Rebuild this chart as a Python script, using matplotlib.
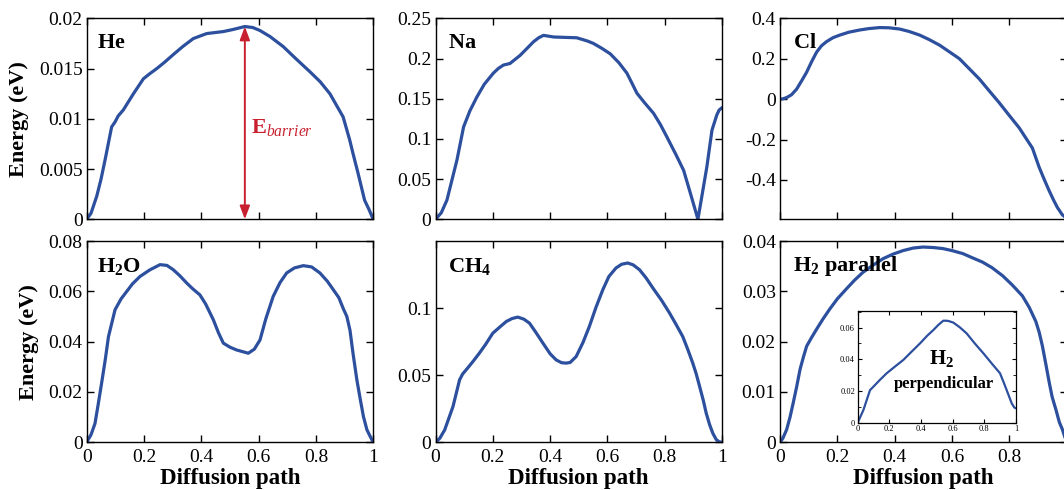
import matplotlib
matplotlib.use("Agg")
import matplotlib.pyplot as plt
from matplotlib.ticker import FuncFormatter, MultipleLocator

plt.rcParams['font.family'] = ['Liberation Serif', 'DejaVu Serif']
plt.rcParams['mathtext.fontset'] = 'custom'
plt.rcParams['mathtext.rm'] = 'Liberation Serif'
plt.rcParams['mathtext.it'] = 'Liberation Serif:italic'
plt.rcParams['mathtext.bf'] = 'Liberation Serif:bold'

# ---------------- data ----------------
he_x = [0, 0.015, 0.035, 0.05, 0.064, 0.087, 0.099, 0.11, 0.128, 0.163, 0.198, 0.22, 0.244, 0.27,
        0.302, 0.335, 0.372, 0.40, 0.419, 0.477, 0.51, 0.552, 0.58, 0.605, 0.64, 0.686, 0.73, 0.779,
        0.815, 0.849, 0.895, 0.918, 0.93, 0.947, 0.970, 0.985, 1.0]
he_y = [0, 0.0006, 0.0023, 0.004, 0.0059, 0.0092, 0.0097, 0.0103, 0.0109, 0.0125, 0.0140, 0.0145,
        0.0150, 0.0156, 0.0164, 0.0172, 0.0180, 0.0183, 0.0185, 0.0187, 0.0189, 0.0192, 0.0191, 0.0188,
        0.0182, 0.0172, 0.016, 0.0147, 0.0137, 0.0125, 0.0102, 0.0079, 0.0065, 0.0046, 0.0019, 0.001, 0]

na_x = [0, 0.02, 0.04, 0.075, 0.098, 0.12, 0.144, 0.17, 0.202, 0.22, 0.237, 0.26, 0.295, 0.32, 0.342,
        0.36, 0.377, 0.412, 0.45, 0.493, 0.53, 0.551, 0.58, 0.61, 0.64, 0.668, 0.685, 0.703, 0.73, 0.761,
        0.785, 0.807, 0.84, 0.866, 0.89, 0.916, 0.947, 0.965, 0.982, 0.99, 1.0]
na_y = [0, 0.008, 0.024, 0.074, 0.115, 0.135, 0.152, 0.168, 0.182, 0.188, 0.192, 0.194, 0.204, 0.213,
        0.221, 0.226, 0.229, 0.227, 0.2265, 0.226, 0.222, 0.219, 0.213, 0.206, 0.195, 0.182, 0.17, 0.157,
        0.145, 0.132, 0.118, 0.103, 0.08, 0.061, 0.032, 0.0, 0.065, 0.111, 0.130, 0.136, 0.139]

cl_x = [0, 0.01, 0.023, 0.04, 0.058, 0.075, 0.093, 0.11, 0.128, 0.145, 0.162, 0.185, 0.209, 0.24,
        0.278, 0.31, 0.348, 0.38, 0.417, 0.45, 0.487, 0.52, 0.557, 0.59, 0.626, 0.66, 0.696, 0.73,
        0.765, 0.8, 0.835, 0.881, 0.904, 0.92, 0.939, 0.955, 0.968, 0.985, 1.0]
cl_y = [0, 0.002, 0.008, 0.022, 0.05, 0.09, 0.134, 0.185, 0.234, 0.265, 0.285, 0.305, 0.318, 0.332,
        0.343, 0.35, 0.355, 0.354, 0.348, 0.336, 0.318, 0.296, 0.268, 0.236, 0.201, 0.152, 0.100, 0.042,
        -0.017, -0.08, -0.142, -0.242, -0.335, -0.39, -0.452, -0.5, -0.536, -0.572, -0.59]

h2o_x = [0, 0.015, 0.029, 0.04, 0.052, 0.065, 0.076, 0.099, 0.12, 0.14, 0.16, 0.186, 0.22, 0.256,
         0.28, 0.302, 0.325, 0.349, 0.37, 0.395, 0.415, 0.442, 0.46, 0.477, 0.50, 0.523, 0.545, 0.564,
         0.585, 0.605, 0.625, 0.651, 0.675, 0.698, 0.725, 0.756, 0.785, 0.814, 0.84, 0.861, 0.88, 0.896,
         0.908, 0.919, 0.93, 0.943, 0.955, 0.966, 0.978, 0.99, 1.0]
h2o_y = [0, 0.003, 0.0075, 0.015, 0.0235, 0.033, 0.042, 0.0527, 0.057, 0.060, 0.063, 0.0659, 0.0685,
         0.0706, 0.0703, 0.0686, 0.0662, 0.0633, 0.061, 0.0586, 0.055, 0.0487, 0.0435, 0.0394, 0.0378,
         0.0367, 0.036, 0.0354, 0.037, 0.0407, 0.049, 0.058, 0.0635, 0.0673, 0.0693, 0.0702, 0.0697,
         0.0673, 0.064, 0.0606, 0.0575, 0.053, 0.05, 0.0445, 0.035, 0.0248, 0.017, 0.0102, 0.005, 0.0022, 0]

ch4_x = [0, 0.015, 0.032, 0.045, 0.061, 0.084, 0.095, 0.107, 0.13, 0.153, 0.175, 0.2, 0.225, 0.247,
         0.267, 0.287, 0.308, 0.328, 0.35, 0.375, 0.40, 0.421, 0.44, 0.456, 0.47, 0.491, 0.515, 0.537,
         0.56, 0.584, 0.605, 0.63, 0.65, 0.671, 0.69, 0.712, 0.735, 0.759, 0.79, 0.817, 0.84, 0.863,
         0.88, 0.898, 0.91, 0.922, 0.935, 0.945, 0.957, 0.968, 0.98, 0.99, 1.0]
ch4_y = [0, 0.003, 0.0092, 0.017, 0.0266, 0.0465, 0.051, 0.054, 0.060, 0.0664, 0.073, 0.0813, 0.086,
         0.090, 0.0922, 0.0933, 0.0918, 0.0888, 0.082, 0.0739, 0.066, 0.0614, 0.0593, 0.059, 0.0595,
         0.0639, 0.0745, 0.0863, 0.1005, 0.1137, 0.1235, 0.1299, 0.1327, 0.1336, 0.1322, 0.1286, 0.1225,
         0.1149, 0.1055, 0.0963, 0.0877, 0.0788, 0.0695, 0.059, 0.051, 0.0415, 0.031, 0.0216, 0.013,
         0.0067, 0.002, 0.0004, 0]

h2p_x = [0, 0.01, 0.023, 0.035, 0.046, 0.058, 0.07, 0.082, 0.093, 0.11, 0.128, 0.15, 0.174, 0.2,
         0.232, 0.26, 0.29, 0.325, 0.36, 0.395, 0.43, 0.465, 0.499, 0.535, 0.568, 0.6, 0.638, 0.67,
         0.707, 0.74, 0.777, 0.81, 0.846, 0.87, 0.893, 0.905, 0.916, 0.928, 0.94, 0.95, 0.963, 0.975,
         0.986, 1.0]
h2p_y = [0, 0.0008, 0.0025, 0.005, 0.0078, 0.011, 0.0145, 0.017, 0.0191, 0.0208, 0.0225, 0.0245,
         0.0265, 0.0285, 0.0305, 0.0322, 0.0338, 0.0352, 0.0365, 0.0374, 0.0381, 0.0386, 0.0388, 0.0387,
         0.0385, 0.0381, 0.0375, 0.0367, 0.0358, 0.0347, 0.0331, 0.0313, 0.0291, 0.0268, 0.024, 0.0218,
         0.0191, 0.0155, 0.0118, 0.009, 0.0065, 0.004, 0.0025, 0]

h2perp_x = [0, 0.036, 0.078, 0.099, 0.14, 0.183, 0.235, 0.288, 0.34, 0.394, 0.44, 0.478, 0.51, 0.541,
            0.57, 0.604, 0.645, 0.688, 0.74, 0.794, 0.85, 0.899, 0.92, 0.941, 0.973, 0.99, 1.0]
h2perp_y = [0, 0.008, 0.0206, 0.0227, 0.027, 0.0312, 0.0354, 0.0396, 0.0448, 0.0501, 0.055, 0.0585,
            0.0618, 0.0644, 0.0643, 0.0632, 0.0602, 0.0564, 0.050, 0.0438, 0.037, 0.0312, 0.026, 0.0206,
            0.0122, 0.0095, 0.0091]

xticks = [0, 0.2, 0.4, 0.6, 0.8, 1.0]
he_yticks = [0, 0.005, 0.01, 0.015, 0.02]
na_yticks = [0, 0.05, 0.1, 0.15, 0.2, 0.25]
cl_yticks = [-0.4, -0.2, 0, 0.2, 0.4]
h2o_yticks = [0, 0.02, 0.04, 0.06, 0.08]
ch4_yticks = [0, 0.05, 0.1]
h2p_yticks = [0, 0.01, 0.02, 0.03, 0.04]
inset_yticks = [0, 0.02, 0.04, 0.06]

he_barrier_x = 0.552
he_barrier_top = 0.0192

# ---------------- style ----------------
LINE = '#2c4f9e'
RED = '#c8202f'
W, H = 1064, 490
fig = plt.figure(figsize=(W / 100, H / 100), dpi=100)

fmt = FuncFormatter(lambda v, p: ('%g' % round(v, 6)) if abs(v) > 1e-12 else '0')

colL = [86.7, 435.5, 780.0]
width = 286.5
rows = [(18.5, 219.3), (241.0, 442.3)]


def make_ax(col, row):
    l = colL[col]
    t, b = rows[row]
    return fig.add_axes([l / W, 1 - b / H, width / W, (b - t) / H])


def style(ax, yt, ylim, bottom_labels, fs=14):
    ax.set_xlim(0, 1)
    ax.set_ylim(*ylim)
    ax.set_xticks(xticks)
    ax.set_yticks(yt)
    ax.xaxis.set_major_formatter(fmt)
    ax.yaxis.set_major_formatter(fmt)
    ax.tick_params(direction='in', top=True, right=True, length=5, width=1,
                   labelsize=fs, pad=3)
    ax.tick_params(axis='x', pad=5)
    if not bottom_labels:
        ax.tick_params(axis='x', labelbottom=False)
    for s in ax.spines.values():
        s.set_linewidth(1.0)


panels = [
    (0, 0, he_x, he_y, he_yticks, (0, 0.02), r'$\mathbf{He}$', (0.035, 0.875)),
    (1, 0, na_x, na_y, na_yticks, (0, 0.25), r'$\mathbf{Na}$', (0.042, 0.875)),
    (2, 0, cl_x, cl_y, cl_yticks, (-0.595, 0.4), r'$\mathbf{Cl}$', (0.045, 0.875)),
    (0, 1, h2o_x, h2o_y, h2o_yticks, (0, 0.08), r'$\mathbf{H_2O}$', (0.035, 0.875)),
    (1, 1, ch4_x, ch4_y, ch4_yticks, (0, 0.15), r'$\mathbf{CH_4}$', (0.042, 0.875)),
    (2, 1, h2p_x, h2p_y, h2p_yticks, (0, 0.04), r'$\mathbf{H_2\ parallel}$', (0.045, 0.875)),
]

axes = {}
for col, row, xs, ys, yt, yl, lab, pos in panels:
    ax = make_ax(col, row)
    ax.plot(xs, ys, color=LINE, lw=2.3, solid_capstyle='round', solid_joinstyle='round')
    style(ax, yt, yl, row == 1)
    ax.text(pos[0], pos[1], lab, transform=ax.transAxes, fontsize=16, ha='left', va='center')
    if col == 0:
        ax.set_ylabel('Energy (eV)', fontsize=16, fontweight='bold', labelpad=7)
    if row == 1:
        ax.set_xlabel('Diffusion path', fontsize=16.5, fontweight='bold', labelpad=1)
    axes[(col, row)] = ax

# the right column is cropped at the figure edge: its "1" label is not shown
axr = axes[(2, 1)]
axr.xaxis.set_major_formatter(FuncFormatter(lambda v, p: '' if v > 0.99 else fmt(v, p)))

# barrier arrow on He panel
axh = axes[(0, 0)]
axh.annotate('', xy=(he_barrier_x, he_barrier_top), xytext=(he_barrier_x, 0),
             arrowprops=dict(arrowstyle='<|-|>,head_length=0.8,head_width=0.3',
                             color=RED, lw=1.4, shrinkA=0, shrinkB=0))
axh.text(0.573, 0.0091, r'$\mathbf{E}_{\mathit{barrier}}$', color=RED, fontsize=16,
         ha='left', va='center')

# inset
ins = fig.add_axes([857.7 / W, 1 - 422.7 / H, 158.3 / W, 112.0 / H])
ins.plot(h2perp_x, h2perp_y, color=LINE, lw=1.6)
ins.set_xlim(0, 1)
ins.set_ylim(0, 0.0707)
ins.set_xticks(xticks)
ins.set_yticks(inset_yticks)
ins.yaxis.set_minor_locator(MultipleLocator(0.01))
ins.xaxis.set_major_formatter(fmt)
ins.yaxis.set_major_formatter(fmt)
ins.tick_params(direction='in', top=True, right=True, length=3, width=0.8, labelsize=6, pad=2)
ins.tick_params(which='minor', direction='in', right=True, length=2, width=0.6)
for s in ins.spines.values():
    s.set_linewidth(0.9)
ins.text(0.53, 0.575, r'$\mathbf{H_2}$', transform=ins.transAxes, fontsize=15, ha='center', va='center')
ins.text(0.543, 0.344, 'perpendicular', transform=ins.transAxes, fontsize=12, fontweight='bold',
         ha='center', va='center')

fig.savefig('out.png', dpi=100)
